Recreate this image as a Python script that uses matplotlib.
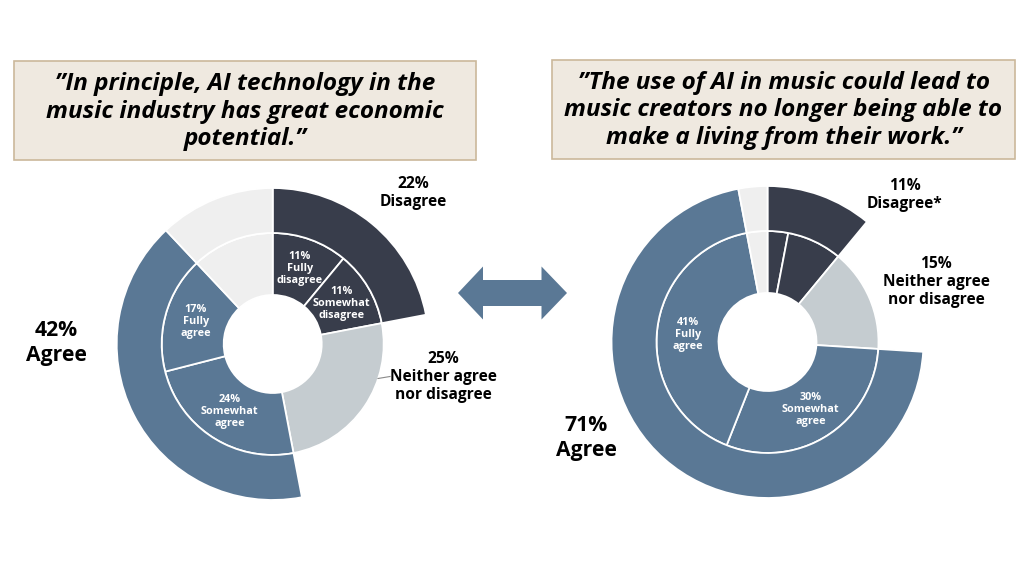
"""Two survey donuts: inner ring = detailed answers, outer ring = grouped answers."""

import matplotlib
matplotlib.use("Agg")
import matplotlib.pyplot as plt
import numpy as np
from matplotlib.patches import Wedge, Polygon, FancyBboxPatch

plt.rcParams["font.family"] = ["Open Sans", "DejaVu Sans"]

# ---- data ----
left_title = "\u201dIn principle, AI technology in the\nmusic industry has great economic\npotential.\u201d"
right_title = "\u201dThe use of AI in music could lead to\nmusic creators no longer being able to\nmake a living from their work.\u201d"

# inner ring segments, clockwise from 12 o'clock
segment_names = ["Fully\ndisagree", "Somewhat\ndisagree", "Neither agree\nnor disagree",
                 "Somewhat\nagree", "Fully\nagree", "No answer"]
left_shares = [11, 11, 25, 24, 17, 12]
right_shares = [3, 8, 15, 30, 41, 3]

# outer groups: which segments they span
group_names = ["Disagree", "Neither agree\nnor disagree", "Agree", "No answer"]
group_members = [[0, 1], [2], [3, 4], [5]]
left_group_pct = [22, 25, 42, None]
right_group_pct = [11, 15, 71, None]

DARK = "#383d4b"
BLUE = "#5a7895"
GREY = "#c5ccd0"
PALE = "#efefef"
segment_colors = [DARK, DARK, GREY, BLUE, BLUE, PALE]
group_colors = [DARK, None, BLUE, PALE]   # neither has no outer part

R_HOLE, R_IN, R_OUT = 49, 111, 156


def draw_donut(ax, cx, cy, shares, inner_labels):
    total = float(sum(shares))
    angles = 90 - 360 * np.concatenate([[0], np.cumsum(shares)]) / total
    for i, s in enumerate(shares):
        a_end, a_start = angles[i + 1], angles[i]
        ax.add_patch(Wedge((cx, cy), R_IN, a_end, a_start, width=R_IN - R_HOLE,
                           facecolor=segment_colors[i], edgecolor="white", lw=1.3))
        if inner_labels[i]:
            mid = np.deg2rad((a_start + a_end) / 2)
            ax.text(cx + 80 * np.cos(mid), cy + 80 * np.sin(mid),
                    f"{s}%\n{segment_names[i]}", color="white", fontsize=7.8,
                    fontweight="bold", ha="center", va="center", linespacing=1.1)
    for g, members in enumerate(group_members):
        if group_colors[g] is None:
            continue
        a_start = angles[members[0]]
        a_end = angles[members[-1] + 1]
        ax.add_patch(Wedge((cx, cy), R_OUT, a_end, a_start, width=R_OUT - R_IN,
                           facecolor=group_colors[g], edgecolor="white", lw=1.3))


fig = plt.figure(figsize=(10.24, 5.65), dpi=100)
ax = fig.add_axes([0, 0, 1, 1])
ax.set_xlim(0, 1024)
ax.set_ylim(0, 565)
ax.set_aspect("equal")
ax.axis("off")

H = 565  # helper for placing things measured from the top

# title boxes
for x0, x1, y0, y1, txt in [(14, 476, 61, 160, left_title), (552, 1015, 60, 159, right_title)]:
    ax.add_patch(FancyBboxPatch((x0, H - y1), x1 - x0, y1 - y0, boxstyle="square,pad=0",
                                facecolor="#efe9e0", edgecolor="#cbb89b", lw=1.2))
    ax.text((x0 + x1) / 2, H - (y0 + y1) / 2 - 1, txt, ha="center", va="center",
            fontsize=17.5, fontweight="bold", style="italic", linespacing=1.2)

# donuts
draw_donut(ax, 272.7, H - 344, left_shares, [True, True, False, True, True, False])
draw_donut(ax, 767.5, H - 342, right_shares, [False, False, False, True, True, False])

# group labels
big = dict(fontweight="bold", ha="center", va="center", linespacing=1.2)
ax.text(413, H - 193, f"{left_group_pct[0]}%\n{group_names[0]}", fontsize=11.2, **big)
ax.text(443, H - 377, f"{left_group_pct[1]}%\n{group_names[1]}", fontsize=11.2, **big)
ax.text(56, H - 343, f"{left_group_pct[2]}%\n{group_names[2]}", fontsize=15.2, **big)
ax.plot([378, 390], [H - 378.5, H - 376.5], color="#8a8a8a", lw=0.8)

ax.text(905, H - 195, f"{right_group_pct[0]}%\n{group_names[0]}*", fontsize=11.2, **big)
ax.text(936, H - 282, f"{right_group_pct[1]}%\n{group_names[1]}", fontsize=11.2, **big)
ax.text(586, H - 438, f"{right_group_pct[2]}%\n{group_names[2]}", fontsize=15.2, **big)

# double arrow between the two charts
ay = H - 293
arrow = [(458, ay), (483, ay + 26.5), (483, ay + 13), (541.5, ay + 13), (541.5, ay + 26.5),
         (567, ay), (541.5, ay - 26.5), (541.5, ay - 13), (483, ay - 13), (483, ay - 26.5)]
ax.add_patch(Polygon(arrow, closed=True, facecolor=BLUE, edgecolor="none"))

fig.savefig("out.png", dpi=100)
